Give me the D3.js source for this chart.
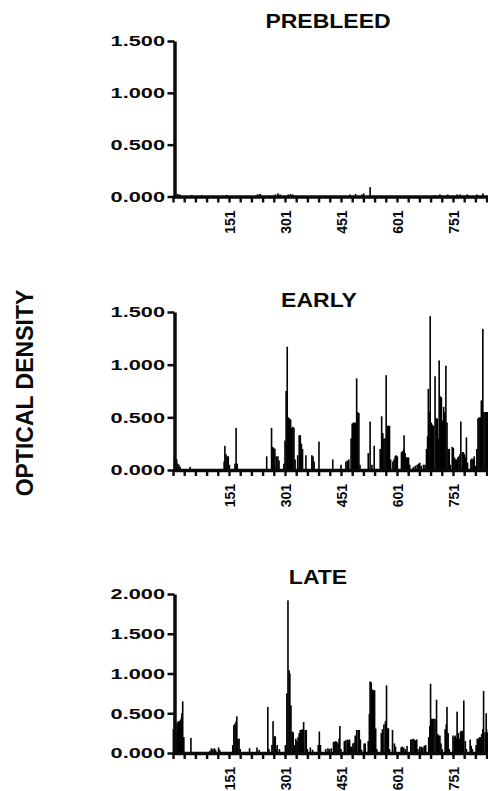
<html>
<head>
<meta charset="utf-8">
<script src="https://d3js.org/d3.v7.min.js"></script>
<style>
body { margin: 0; background: #fff; }
svg { display: block; }
text { font-family: "Liberation Sans", Arial, Helvetica, sans-serif; font-weight: bold; fill: #0a0a0a; }
.axis path, .axis line { stroke: #0a0a0a; }
</style>
</head>
<body>
<svg width="488" height="791"></svg>
<script>

// x positions (residue number) and optical density
var prebleedPeaks = [
  [8,.02],[14,.025],[20,.02],[51,.015],[78,.015],[145,.015],[227,.02],[232,.02],[235,.025],
  [275,.02],[282,.03],[288,.02],[310,.02],[316,.025],[322,.02],[475,.02],[490,.025],[507,.02],
  [512,.03],[529,.09],[703,.015],[716,.02],[737,.02],[762,.02],[770,.02],[789,.02],[815,.02],[831,.03]
];

var earlyPeaks = [
  [5,.11],[8,.11],[11,.10],[14,.06],[17,.05],[20,.03],[47,.03],
  [138,.08],[140,.23],[143,.15],[146,.13],[149,.13],[152,.05],
  [167,.06],[170,.40],[173,.06],[252,.13],
  [265,.40],[268,.22],[271,.21],[274,.20],[278,.13],[282,.13],[285,.09],
  [298,.06],[301,.28],[304,.75],[307,1.17],[310,.50],[313,.49],[316,.48],[319,.40],[322,.41],[325,.40],[328,.10],
  [335,.14],[339,.33],[342,.33],[345,.25],[348,.20],[357,.14],
  [373,.14],[376,.13],[379,.08],[392,.27],
  [429,.10],[451,.05],[464,.08],[468,.09],[472,.10],
  [478,.30],[481,.44],[484,.45],[487,.45],[490,.45],[493,.87],[496,.55],[499,.54],[502,.05],
  [524,.16],[529,.46],[534,.05],[540,.23],
  [556,.20],[560,.51],[563,.35],[566,.30],[569,.30],[572,.90],[575,.42],[578,.42],[581,.42],[584,.10],
  [590,.08],[593,.10],[596,.13],[599,.14],[602,.13],
  [613,.17],[616,.18],[619,.20],[620,.33],[623,.16],[626,.12],[629,.12],[632,.12],[635,.05],
  [645,.03],[650,.04],[655,.05],[659,.06],[662,.07],[666,.04],[672,.05],[676,.05],
  [680,.20],[683,.32],[685,.77],[687,.55],[690,1.46],[693,.45],[696,.43],[699,.42],[703,.89],[706,.49],
  [709,.49],[712,.30],[714,1.04],[717,.70],[720,.69],[723,.47],[726,.60],[729,.55],[732,.99],[735,.45],
  [738,.20],[741,.20],[744,.05],
  [749,.22],[752,.21],[755,.12],[758,.10],[761,.10],[764,.12],[767,.13],[770,.15],[772,.46],[776,.17],
  [779,.17],[782,.15],[785,.12],[787,.31],[790,.07],
  [799,.10],[802,.11],[805,.10],[808,.13],[812,.04],
  [815,.20],[818,.49],[821,.50],[824,.50],[827,.66],[829,.66],[831,1.34],[834,.55],[837,.55],[840,.55],[843,.55],[846,.50]
];

var latePeaks = [
  [2,.30],[5,.50],[7,.30],[9,.26],[12,.38],[15,.40],[18,.40],[21,.42],[24,.45],[25,.50],[27,.65],[30,.20],
  [49,.19],[100,.03],[104,.06],[108,.05],[112,.06],[115,.04],[123,.07],[126,.04],
  [161,.10],[164,.35],[167,.37],[170,.40],[172,.46],[175,.18],[178,.18],[181,.05],
  [206,.06],[226,.07],[232,.04],
  [255,.58],[258,.05],
  [266,.10],[269,.40],[272,.21],[275,.21],[277,.05],[280,.10],[286,.05],
  [302,.10],[306,.75],[309,1.92],[312,1.04],[314,1.00],[317,.60],[320,.27],[323,.26],[326,.10],
  [330,.18],[333,.15],[336,.20],[339,.25],[342,.29],[345,.29],[348,.30],[351,.39],[355,.29],[358,.29],[361,.05],
  [369,.07],[375,.04],[390,.10],[393,.27],[396,.10],
  [410,.05],[416,.06],[420,.05],[425,.06],
  [431,.14],[434,.14],[437,.15],[440,.14],[443,.12],[446,.18],[448,.34],[451,.05],
  [460,.15],[464,.16],[468,.17],[471,.16],[474,.17],[477,.08],[480,.08],[483,.12],[486,.13],[489,.22],
  [493,.29],[497,.29],[500,.29],[503,.17],[506,.04],
  [513,.12],[516,.12],
  [524,.15],[527,.49],[529,.90],[532,.89],[535,.80],[538,.79],[541,.79],[544,.31],[547,.05],
  [559,.25],[562,.30],[566,.36],[570,.40],[573,.85],[576,.31],[578,.31],[581,.05],
  [589,.29],[594,.12],[597,.08],
  [612,.07],[615,.08],[619,.07],[623,.05],[628,.09],
  [638,.17],[641,.17],[644,.18],[647,.17],[650,.16],[654,.17],[657,.05],
  [662,.08],[666,.08],[670,.07],[674,.09],[678,.10],
  [686,.20],[689,.34],[691,.87],[694,.43],[697,.43],[700,.43],[703,.43],[707,.67],[710,.24],[713,.22],
  [716,.22],[719,.12],[722,.05],
  [730,.30],[733,.36],[735,.58],[738,.25],[741,.05],
  [751,.22],[754,.20],[757,.22],[760,.18],[762,.52],[765,.25],[768,.18],[771,.27],[774,.28],[777,.28],
  [780,.66],[784,.15],[787,.05],
  [797,.17],[800,.09],[803,.05],
  [813,.10],[816,.18],[819,.18],[822,.20],[825,.20],[828,.24],[831,.30],[833,.78],[837,.26],[840,.50],[843,.26],[846,.30]
];

var titles = ["PREBLEED", "EARLY", "LATE"];
var xTickValues = d3.range(1, 902, 30);
var xLabelValues = [151, 301, 451, 601, 751];
var odTicks15 = [0, 0.5, 1, 1.5];
var odTicks20 = [0, 0.5, 1, 1.5, 2];

var svg = d3.select("svg");

var panels = [
  {title: titles[0], data: prebleedPeaks, yMax: 1.5, ticks: odTicks15, top: 41, bottom: 196.5, tx: 328, ty: 28},
  {title: titles[1], data: earlyPeaks, yMax: 1.5, ticks: odTicks15, top: 312, bottom: 470, tx: 319, ty: 307},
  {title: titles[2], data: latePeaks, yMax: 2, ticks: odTicks20, top: 594, bottom: 753, tx: 318, ty: 584}
];

var x = d3.scaleLinear()
    .domain([1, 901])
    .range([173, 173 + 900 * 0.3733]);

var axisX = 174.5;

panels.forEach(function(p) {

    var y = d3.scaleLinear()
        .domain([0, p.yMax])
        .range([p.bottom, p.top]);

    var g = svg.append("g");

    g.selectAll(".bar")
        .data(p.data)
      .enter().append("rect")
        .attr("class", "bar")
        .attr("x", d => x(d[0]) - 0.8)
        .attr("width", 1.6)
        .attr("y", d => y(d[1]))
        .attr("height", d => y(0) - y(d[1]))
        .attr("fill", "#000");

    // x axis, ticks every 30 residues, labels every 150
    var xa = g.append("g")
        .attr("class", "axis")
        .attr("transform", "translate(0," + y(0) + ")")
        .call(d3.axisBottom(x)
            .tickValues(xTickValues)
            .tickSize(6)
            .tickSizeOuter(0)
            .tickFormat(d => xLabelValues.indexOf(d) >= 0 ? d : ""));

    xa.select(".domain").attr("stroke-width", 3.5);
    xa.selectAll(".tick line").attr("stroke-width", 2.4);
    xa.selectAll(".tick text")
        .attr("y", 0)
        .attr("x", -14)
        .attr("dy", "0.36em")
        .attr("transform", "rotate(-90)")
        .attr("text-anchor", "end")
        .style("font-size", "14px");

    var ya = g.append("g")
        .attr("class", "axis")
        .attr("transform", "translate(" + axisX + ",0)")
        .call(d3.axisLeft(y)
            .tickValues(p.ticks)
            .tickSize(7)
            .tickSizeOuter(0)
            .tickFormat(d3.format(".3f")));

    ya.select(".domain").attr("stroke-width", 3.5);
    ya.selectAll(".tick line").attr("stroke-width", 2.5);
    ya.selectAll(".tick text")
        .attr("x", -9.5 / 1.45)
        .attr("transform", "scale(1.45,1)")
        .style("font-size", "15px");

    g.append("text")
        .attr("transform", "translate(" + p.tx + "," + p.ty + ") scale(1.15,1)")
        .attr("text-anchor", "middle")
        .style("font-size", "20px")
        .text(p.title);
});

svg.append("text")
    .attr("transform", "translate(33,393) rotate(-90)")
    .attr("text-anchor", "middle")
    .style("font-size", "23px")
    .text("OPTICAL DENSITY");

</script>
</body>
</html>
